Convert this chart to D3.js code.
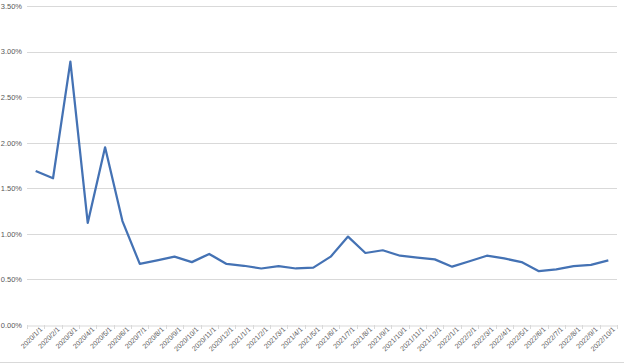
<!DOCTYPE html>
<html>
<head>
<meta charset="utf-8">
<script src="https://cdn.jsdelivr.net/npm/d3@7"></script>
<style>
  body { margin: 0; background: #fff; }
  svg { display: block; font-family: "Liberation Sans", Arial, sans-serif; }
</style>
</head>
<body>
<svg id="chart"></svg>
<script>
// months on the x axis
const months = [
  "2020/1/1", "2020/2/1", "2020/3/1", "2020/4/1", "2020/5/1", "2020/6/1",
  "2020/7/1", "2020/8/1", "2020/9/1", "2020/10/1", "2020/11/1", "2020/12/1",
  "2021/1/1", "2021/2/1", "2021/3/1", "2021/4/1", "2021/5/1", "2021/6/1",
  "2021/7/1", "2021/8/1", "2021/9/1", "2021/10/1", "2021/11/1", "2021/12/1",
  "2022/1/1", "2022/2/1", "2022/3/1", "2022/4/1", "2022/5/1", "2022/6/1",
  "2022/7/1", "2022/8/1", "2022/9/1", "2022/10/1"
];

// rate values (fractions)
const rates = [
  0.0169, 0.0161, 0.0289, 0.0112, 0.0195, 0.0114,
  0.0067, 0.0071, 0.0075, 0.0069, 0.0078, 0.0067,
  0.0065, 0.0062, 0.00645, 0.0062, 0.0063, 0.0075,
  0.0097, 0.0079, 0.0082, 0.0076, 0.0074, 0.0072,
  0.0064, 0.0070, 0.0076, 0.0073, 0.0069, 0.0059,
  0.0061, 0.00645, 0.0066, 0.0071
];

const yTicks = [0, 0.005, 0.01, 0.015, 0.02, 0.025, 0.03, 0.035];

const W = 624, H = 364;
const margin = { top: 6, right: 7, bottom: 39, left: 27 };
const width = W - margin.left - margin.right;
const height = H - margin.top - margin.bottom;

const svg = d3.select("#chart").attr("width", W).attr("height", H);

// chart border at the bottom
svg.append("line")
  .attr("x1", 0).attr("x2", W)
  .attr("y1", H - 1.5).attr("y2", H - 1.5)
  .attr("stroke", "#d9d9d9").attr("stroke-width", 1);

const g = svg.append("g")
  .attr("transform", `translate(${margin.left},${margin.top})`);

const x = d3.scaleBand().domain(months).range([0, width]);
const y = d3.scaleLinear().domain([0, 0.035]).range([height, 0]);

// gridlines
g.append("g")
  .selectAll("line")
  .data(yTicks.filter(d => d > 0))
  .enter().append("line")
  .attr("x1", 0).attr("x2", width)
  .attr("y1", d => Math.round(y(d)) + 0.5)
  .attr("y2", d => Math.round(y(d)) + 0.5)
  .attr("stroke", "#d9d9d9");

// y axis labels
const yAxis = g.append("g")
  .call(d3.axisLeft(y).tickValues(yTicks).tickFormat(d3.format(".2%")).tickSize(0).tickPadding(5));
yAxis.select(".domain").remove();
yAxis.selectAll("text").attr("fill", "#595959").style("font-size", "7.5px");

// x axis
const xAxis = g.append("g")
  .attr("transform", `translate(0,${Math.round(height) + 0.5})`)
  .call(d3.axisBottom(x).tickSize(0).tickPadding(4));
xAxis.select(".domain").attr("stroke", "#d9d9d9");
xAxis.selectAll("text")
  .attr("fill", "#595959")
  .style("font-size", "7px")
  .attr("text-anchor", "end")
  .attr("dx", "0.3em")
  .attr("dy", "0.6em")
  .attr("transform", "rotate(-45)");

// small tick marks between categories
g.append("g")
  .selectAll("line")
  .data(months.concat(["end"]))
  .enter().append("line")
  .attr("x1", (d, i) => Math.round(i * x.step()) + 0.5)
  .attr("x2", (d, i) => Math.round(i * x.step()) + 0.5)
  .attr("y1", height).attr("y2", height + 4)
  .attr("stroke", "#d9d9d9");

// the line
const line = d3.line()
  .x((d, i) => x(months[i]) + x.bandwidth() / 2)
  .y(d => y(d));

g.append("path")
  .datum(rates)
  .attr("fill", "none")
  .attr("stroke", "#4472b4")
  .attr("stroke-width", 2.25)
  .attr("stroke-linejoin", "round")
  .attr("d", line);
</script>
</body>
</html>
